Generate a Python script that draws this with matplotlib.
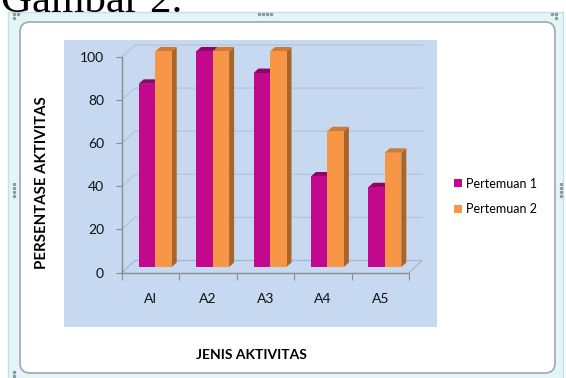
import matplotlib.pyplot as plt
import numpy as np
from matplotlib.lines import Line2D
from matplotlib.patches import FancyBboxPatch, Patch, Polygon, Rectangle
from matplotlib.transforms import Affine2D

# ----------------------------------------------------------------------------
# Data
# ----------------------------------------------------------------------------
categories = ["AI", "A2", "A3", "A4", "A5"]
pertemuan_1 = [85, 100, 90, 42, 37]
pertemuan_2 = [100, 100, 100, 63, 53]
series_labels = ["Pertemuan 1", "Pertemuan 2"]
y_ticks = [0, 20, 40, 60, 80, 100]

plt.rcParams["font.family"] = ["Lato", "DejaVu Sans"]

W, H = 566, 378
fig = plt.figure(figsize=(W / 100, H / 100), dpi=100)
fig.patch.set_facecolor("white")

# pixel coordinates measured from the top-left corner
pix = Affine2D().scale(1 / 100, -1 / 100).translate(0, H / 100) + fig.dpi_scale_trans


def fx(px):
    return px / W


def fy(py):
    return 1 - py / H


# ----------------------------------------------------------------------------
# Frame of the embedded chart object + caption above it
# ----------------------------------------------------------------------------
fig.text(fx(1), fy(12), "Gambar 2.", family="Liberation Serif", fontsize=31,
         va="baseline", ha="left", color="black")

outer = Rectangle((8, 12), 555, 370, transform=pix, facecolor="#e3f5f7",
                  edgecolor="#c6dfe2", lw=1, zorder=-3)
fig.add_artist(outer)
inner = FancyBboxPatch((20, 22), 535, 351, boxstyle="round,pad=0,rounding_size=10",
                       transform=pix, facecolor="white", edgecolor="#a6a6a6",
                       lw=1.2, zorder=-2)
fig.add_artist(inner)

# resize handles
hx = [259, 263, 267, 271, 14, 14, 14, 14, 561, 561, 561, 561, 14, 18, 14, 552, 556, 556, 14, 14]
hy = [14, 14, 14, 14, 184, 188, 192, 196, 184, 188, 192, 196, 14, 14, 18, 14, 14, 18, 372, 376]
fig.add_artist(Line2D(hx, hy, transform=pix, ls="none", marker="s", ms=1.3,
                      color="#8a9a9c"))

# plot area background
fig.add_artist(Rectangle((64, 40), 373, 287, transform=pix, facecolor="#c6d9f1",
                         edgecolor="none", zorder=-1))

# ----------------------------------------------------------------------------
# Axes with a pseudo 3D wall/floor
# ----------------------------------------------------------------------------
ax = fig.add_axes([fx(122), fy(272.5), 287 / W, 215.5 / H])
ax.patch.set_visible(False)
ax.set_xlim(-0.5, len(categories) - 0.5)
ax.set_ylim(0, 100)

ux = len(categories) / 287.0   # data units per pixel (x)
uy = 100 / 215.5               # data units per pixel (y)
DX, DY = 13 * ux, 12 * uy      # full depth of the wall
OX, OY = 4.5 * ux, 5.5 * uy    # front of the bars
BX, BY = 5 * ux, 4.5 * uy      # bar depth
bw = 16.5 * ux

x0, x1 = -0.5, len(categories) - 0.5
grid_c = "#b3c4da"
axis_c = "#8c8c8c"
for v in y_ticks[1:]:
    ax.plot([x0, x0 + DX, x1 + DX], [v, v + DY, v + DY], color=grid_c, lw=0.9,
            clip_on=False, zorder=1)
ax.plot([x0, x0 + DX, x1 + DX, x1], [0, DY, DY, 0], color="#a9b6c6", lw=0.9,
        clip_on=False, zorder=1)

colors = [("#c2088d", "#8e0567", "#7a0458"), ("#f79646", "#cf7a35", "#a8642a")]
series = [pertemuan_1, pertemuan_2]
for i in range(len(categories)):
    for s, vals in enumerate(series):
        front_c, top_c, side_c = colors[s]
        v = vals[i]
        left = i - bw + OX + s * bw
        right = left + bw
        ax.add_patch(Polygon([(right, OY), (right + BX, OY + BY), (right + BX, v + OY + BY),
                              (right, v + OY)], closed=True, facecolor=side_c,
                             edgecolor="none", clip_on=False, zorder=2))
        ax.add_patch(Polygon([(left, v + OY), (left + BX, v + OY + BY),
                              (right + BX, v + OY + BY), (right, v + OY)], closed=True,
                             facecolor=top_c, edgecolor="none", clip_on=False, zorder=2))
        ax.add_patch(Rectangle((left, OY), bw, v, facecolor=front_c, edgecolor="none",
                               clip_on=False, zorder=2))

for side in ["top", "right"]:
    ax.spines[side].set_visible(False)
for side in ["left", "bottom"]:
    ax.spines[side].set_color(axis_c)
    ax.spines[side].set_linewidth(1)

ax.set_yticks(y_ticks)
ax.tick_params(axis="y", direction="out", length=4, color=axis_c, pad=9,
               labelsize=10, labelcolor="#111111")
ax.set_xticks(np.arange(x0, x1 + 0.5, 1))
ax.set_xticklabels([])
ax.set_xticks(np.arange(len(categories)), minor=True)
ax.set_xticklabels(categories, minor=True)
ax.tick_params(axis="x", which="major", direction="out", length=5, color=axis_c)
ax.tick_params(axis="x", which="minor", length=0, pad=15, labelsize=10,
               labelcolor="#111111")

fig.text(fx(42), fy(183), "PERSENTASE AKTIVITAS", rotation=90, ha="center",
         va="center", fontsize=10.8, fontweight="bold")
fig.text(fx(251.5), fy(355), "JENIS AKTIVITAS", ha="center", va="center",
         fontsize=10, fontweight="bold")

handles = [Patch(facecolor=colors[0][0]), Patch(facecolor=colors[1][0])]
fig.legend(handles, series_labels, loc="center left",
           bbox_to_anchor=(fx(443), fy(196.5)), frameon=False, fontsize=9,
           handlelength=0.6, handleheight=0.6, handletextpad=0.35, labelspacing=1.1)

fig.savefig("out.png", dpi=100)
